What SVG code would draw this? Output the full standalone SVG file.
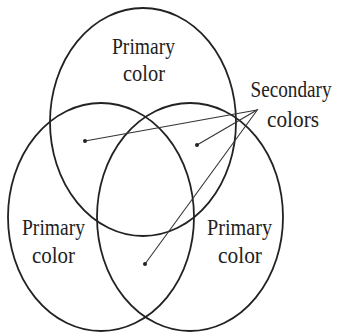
<svg xmlns="http://www.w3.org/2000/svg" width="337" height="332" viewBox="0 0 337 332">
<style>
.c{fill:none;stroke:#222;stroke-width:1.8}
.t{font-family:"Liberation Serif","Times New Roman",serif;font-size:24px;fill:#222;text-anchor:middle}
.l{stroke:#333;stroke-width:1.1;fill:none}
</style>
<defs>
<marker id="dot" markerWidth="6" markerHeight="6" refX="3" refY="3" markerUnits="userSpaceOnUse">
<circle cx="3" cy="3" r="2" fill="#222"/>
</marker>
</defs>
<rect width="337" height="332" fill="#fff"/>
<g id="top">
<ellipse class="c" cx="143" cy="122" rx="93" ry="114"/>
<text class="t" x="143.5" y="54" textLength="63" lengthAdjust="spacingAndGlyphs">Primary</text>
<text class="t" x="144" y="81" textLength="42" lengthAdjust="spacingAndGlyphs">color</text>
</g>
<g id="left">
<ellipse class="c" cx="101" cy="217" rx="93" ry="114"/>
<text class="t" x="53.5" y="235" textLength="63" lengthAdjust="spacingAndGlyphs">Primary</text>
<text class="t" x="53.5" y="263" textLength="43" lengthAdjust="spacingAndGlyphs">color</text>
</g>
<g id="right">
<ellipse class="c" cx="190" cy="217" rx="93" ry="114"/>
<text class="t" x="239.5" y="235" textLength="65" lengthAdjust="spacingAndGlyphs">Primary</text>
<text class="t" x="240" y="263" textLength="44" lengthAdjust="spacingAndGlyphs">color</text>
</g>
<g id="secondary">
<text class="t" transform="translate(291 97) scale(0.8 1)" x="0" y="0">Secondary</text>
<text class="t" x="293" y="127" textLength="52" lengthAdjust="spacingAndGlyphs">colors</text>
</g>
<g id="connectors">
<line class="l" x1="257" y1="110" x2="85" y2="141" marker-end="url(#dot)"/>
<line class="l" x1="257" y1="110" x2="197" y2="145" marker-end="url(#dot)"/>
<line class="l" x1="258" y1="109" x2="145" y2="264" marker-end="url(#dot)"/>
</g>
</svg>
